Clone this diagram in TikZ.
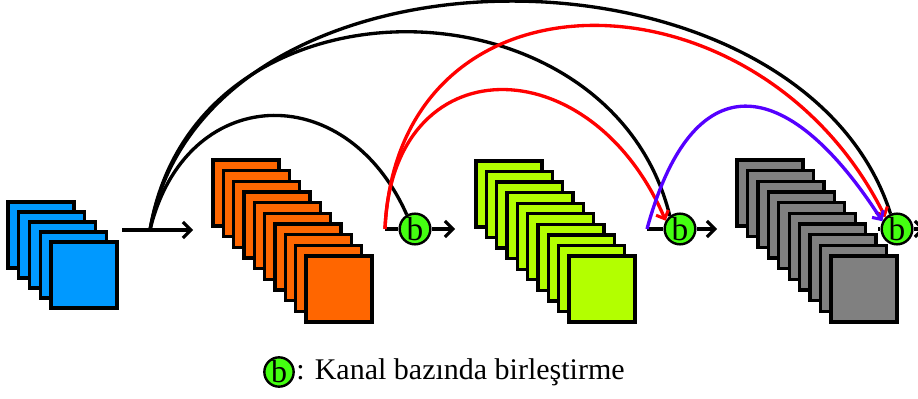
\documentclass[tikz,border=0pt]{standalone}
\usepackage{fontspec}
\setmainfont{Liberation Serif}
\usetikzlibrary{arrows.meta}

\definecolor{mapblue}{RGB}{0,153,255}
\definecolor{maporange}{RGB}{255,102,0}
\definecolor{mapgreen}{RGB}{179,255,0}
\definecolor{mapgray}{RGB}{128,128,128}
\definecolor{catgreen}{RGB}{68,255,17}
\definecolor{skipred}{RGB}{255,0,0}
\definecolor{skipviolet}{RGB}{85,0,255}

% draw a stack of feature maps: x0, y0, dx, dy, last index, fill
\newcommand\drawfmstack[6]{%
  \foreach \i in {0,...,#5} {%
    \draw[fmap, fill=#6] ({#1+\i*#3},{#2+\i*#4}) rectangle ++(66,66);
  }%
}

\begin{document}
\begin{tikzpicture}[x=0.75pt,y=-0.75pt,
  fmap/.style={line width=2.5pt, draw=black, line join=miter},
  cat/.style={circle, draw=black, line width=1.8pt, fill=catgreen,
    minimum size=23pt, inner sep=0pt, font=\fontsize{25}{25}\selectfont},
  flow/.style={line width=2.5pt, -{Straight Barb[length=6pt,width=12pt,line width=2.3pt]}},
  skip/.style={line width=2.5pt},
  skiparrow/.style={line width=2.5pt, -{Straight Barb[length=5pt,width=10pt,line width=2.3pt]}}]

\useasboundingbox (0,0) rectangle (918,399);

% feature map stacks
\drawfmstack{8}{202}{10.75}{10}{4}{mapblue}
\drawfmstack{213}{160}{10.33}{10.67}{9}{maporange}
\drawfmstack{476}{161}{10.33}{10.56}{9}{mapgreen}
\drawfmstack{737}{160}{10.44}{10.67}{9}{mapgray}

% concatenation nodes and feed points
\node[cat] (b1) at (415,229) {b};
\node[cat] (b2) at (680,229) {b};
\node[cat] (b3) at (897,229) {b};

\coordinate (in0) at (122,230);
\coordinate (s0) at (150,230);
\coordinate (o0) at (193,230);
\coordinate (s1) at (385,229);
\coordinate (o1) at (455,229);
\coordinate (s2) at (647,229);
\coordinate (o2) at (717,229);
\coordinate (s3) at (878,229);
\coordinate (o3) at (925,229);

% main flow
\draw[flow] (in0) -- (o0);
\draw[skip] (s1) -- (b1);
\draw[flow] (b1) -- (o1);
\draw[skip] (s2) -- (b2);
\draw[flow] (b2) -- (o2);
\draw[skip] (s3) -- (b3);
\draw[flow] (b3) -- (o3);

% dense connections from the input
\draw[skip] (s0) .. controls (185,84) and (345,76) .. (b1.120);
\draw[skip] (s0) .. controls (195,-36) and (610,-28) .. (b2.128);
\draw[skip] (s0) .. controls (205,-75) and (800,-70) .. (b3.113);

% connections from the first block
\draw[skiparrow, skipred] (s1) .. controls (392,45) and (590,45) .. (b2.150);
\draw[skiparrow, skipred] (s1) .. controls (398,-45) and (760,-35) .. (b3.135);

% connection from the second block
\draw[skiparrow, skipviolet] (s2) .. controls (692,64) and (785,70) .. (b3.152);

% legend
\node[cat, minimum size=22pt, font=\fontsize{24}{24}\selectfont] (lg) at (279,372) {b};
\node[anchor=west, inner sep=0pt, font=\fontsize{22.5}{26}\selectfont] (lgt) at ([xshift=1pt]lg.east) {: Kanal bazında birleştirme};
\end{tikzpicture}
\end{document}
